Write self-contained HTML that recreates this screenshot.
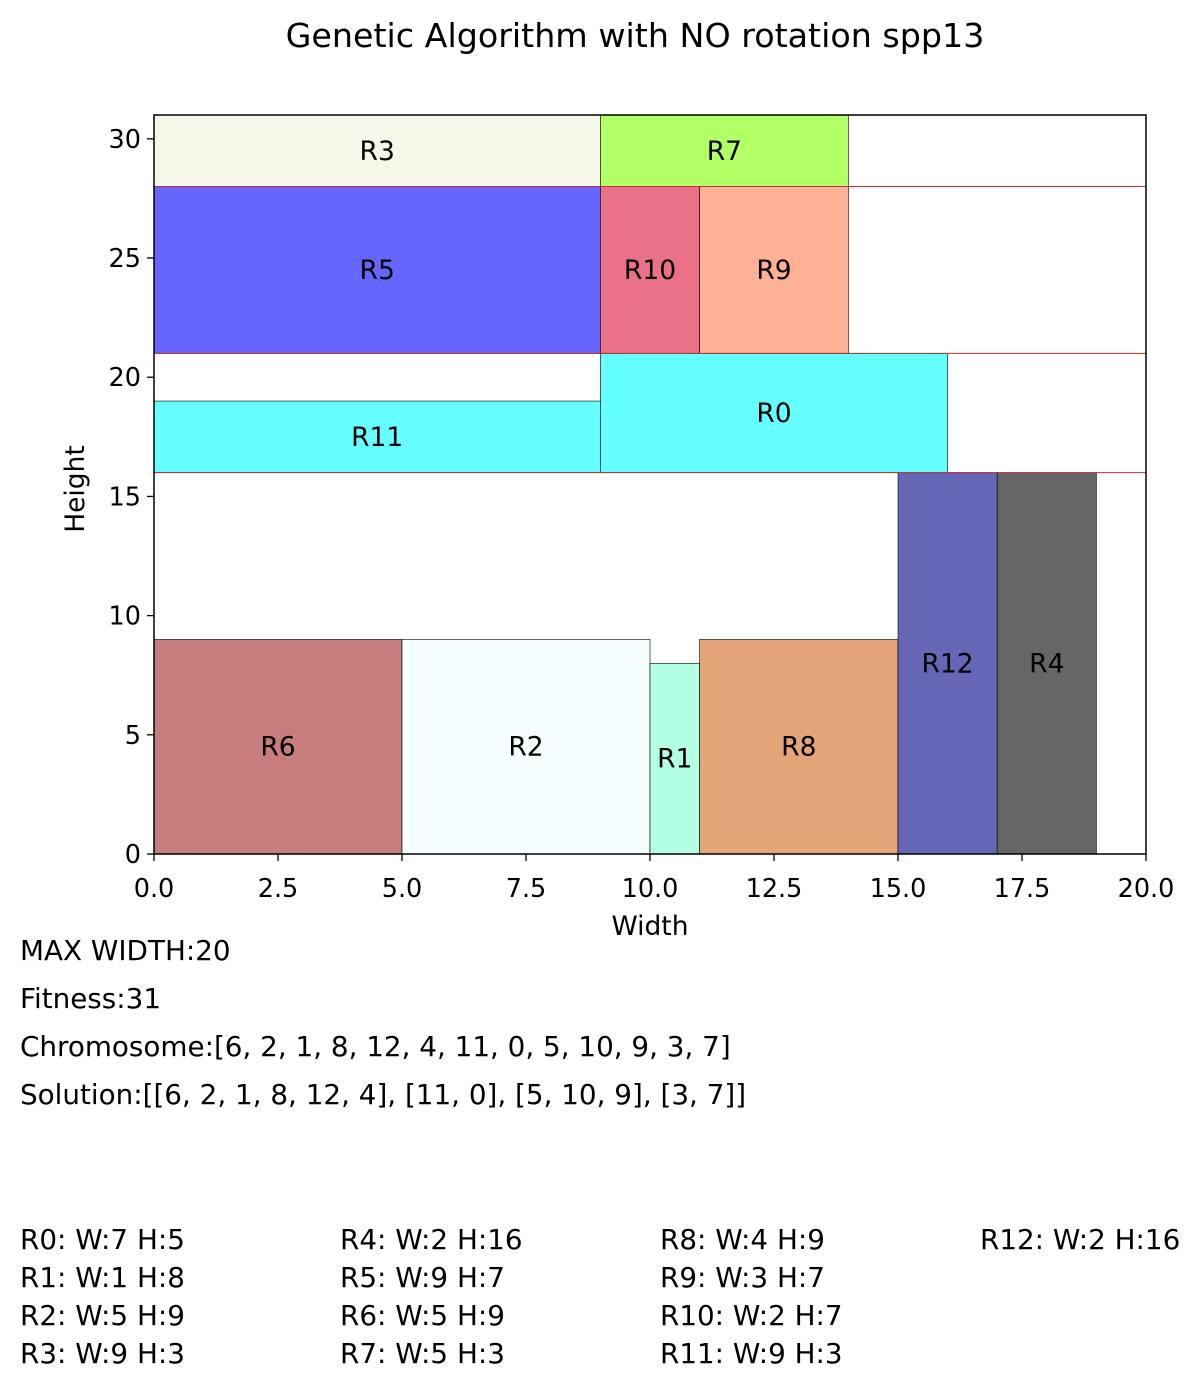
<!DOCTYPE html>
<html><head><meta charset="utf-8"><style>
body{margin:0;background:#fff;font-family:"DejaVu Sans",sans-serif;}
.t{position:absolute;font-size:27.8px;color:#000;white-space:nowrap;line-height:30px}
</style></head><body>
<div style="position:relative;width:1200px;height:1389px;overflow:hidden">
<div class="t" style="left:0;width:1270px;text-align:center;top:19px;font-size:33.3px;line-height:34px">Genetic Algorithm with NO rotation spp13</div>
<svg id="chart" width="1200" height="960" style="position:absolute;left:0;top:0"></svg>
<div class="t" style="left:20px;top:936px">MAX WIDTH:20</div>
<div class="t" style="left:20px;top:984px">Fitness:31</div>
<div class="t" style="left:20px;top:1032px">Chromosome:[6, 2, 1, 8, 12, 4, 11, 0, 5, 10, 9, 3, 7]</div>
<div class="t" style="left:20px;top:1080px">Solution:[[6, 2, 1, 8, 12, 4], [11, 0], [5, 10, 9], [3, 7]]</div>
<div class="t" style="left:20px;top:1221px;line-height:38px">R0: W:7 H:5<br>R1: W:1 H:8<br>R2: W:5 H:9<br>R3: W:9 H:3</div>
<div class="t" style="left:340px;top:1221px;line-height:38px">R4: W:2 H:16<br>R5: W:9 H:7<br>R6: W:5 H:9<br>R7: W:5 H:3</div>
<div class="t" style="left:660px;top:1221px;line-height:38px">R8: W:4 H:9<br>R9: W:3 H:7<br>R10: W:2 H:7<br>R11: W:9 H:3</div>
<div class="t" style="left:980px;top:1221px;line-height:38px">R12: W:2 H:16</div>
</div>
<script>
const names=["R6","R2","R1","R8","R12","R4","R11","R0","R5","R10","R9","R3","R7"];
const xs=[0,5,10,11,15,17,0,9,0,9,11,0,9];
const ys=[0,0,0,0,0,0,16,16,21,21,21,28,28];
const ws=[5,5,1,4,2,2,9,7,9,2,3,9,5];
const hs=[9,9,8,9,16,16,3,5,7,7,7,3,3];
const colors=["#c77d7d","#f5fdff","#b2ffe3","#e3a578","#6666b6","#666666","#66ffff","#66ffff","#6666ff","#eb7189","#ffb196","#f7f7e9","#b3ff66"];
const shelves=[16,21,28];
const xticks=[0,2.5,5,7.5,10,12.5,15,17.5,20];
const yticks=[0,5,10,15,20,25,30];
const X0=154,X1=1146,Y0=854,YT=115,XMAX=20,YMAX=31;
const sx=v=>X0+v/XMAX*(X1-X0), sy=v=>Y0-v/YMAX*(Y0-YT);
const svg=document.getElementById('chart');const NS="http://www.w3.org/2000/svg";
const FF='DejaVu Sans, sans-serif';
function mk(tag,a){const e=document.createElementNS(NS,tag);for(const k in a)e.setAttribute(k,a[k]);svg.appendChild(e);return e;}
names.forEach((n,i)=>{
 const r=mk('rect',{x:sx(xs[i]),y:sy(ys[i]+hs[i]),width:sx(ws[i])-sx(0),height:sy(0)-sy(hs[i]),fill:colors[i],stroke:'#000','stroke-width':0.6});
 
 
 const t=mk('text',{x:sx(xs[i]+ws[i]/2),y:sy(ys[i]+hs[i]/2)+9,'text-anchor':'middle','font-size':26.5,'font-family':FF});
 t.textContent=n;
 
 
});
shelves.forEach(s=>{const l=mk('line',{x1:X0,x2:X1,y1:sy(s),y2:sy(s),stroke:'#c03030','stroke-width':1});
 
 });
const fr=mk('rect',{x:X0,y:YT,width:X1-X0,height:Y0-YT,fill:'none',stroke:'#000','stroke-width':1.5});


xticks.forEach(v=>{mk('line',{x1:sx(v),x2:sx(v),y1:Y0,y2:Y0+7,stroke:'#000','stroke-width':1.3});
 const t=mk('text',{x:sx(v),y:Y0+43,'text-anchor':'middle','font-size':25.5,'font-family':FF});t.textContent=v.toFixed(1);
 
 });
yticks.forEach(v=>{mk('line',{x1:X0-7,x2:X0,y1:sy(v),y2:sy(v),stroke:'#000','stroke-width':1.3});
 const t=mk('text',{x:X0-13,y:sy(v)+9,'text-anchor':'end','font-size':25.5,'font-family':FF});t.textContent=v;
 
 });
const xl=mk('text',{x:650,y:935,'text-anchor':'middle','font-size':26.5,'font-family':FF});xl.textContent='Width';


const yl=mk('text',{x:0,y:0,'text-anchor':'middle','font-size':26.5,'font-family':FF,transform:'translate(84,489) rotate(-90)'});yl.textContent='Height';


</script>
</body></html>
